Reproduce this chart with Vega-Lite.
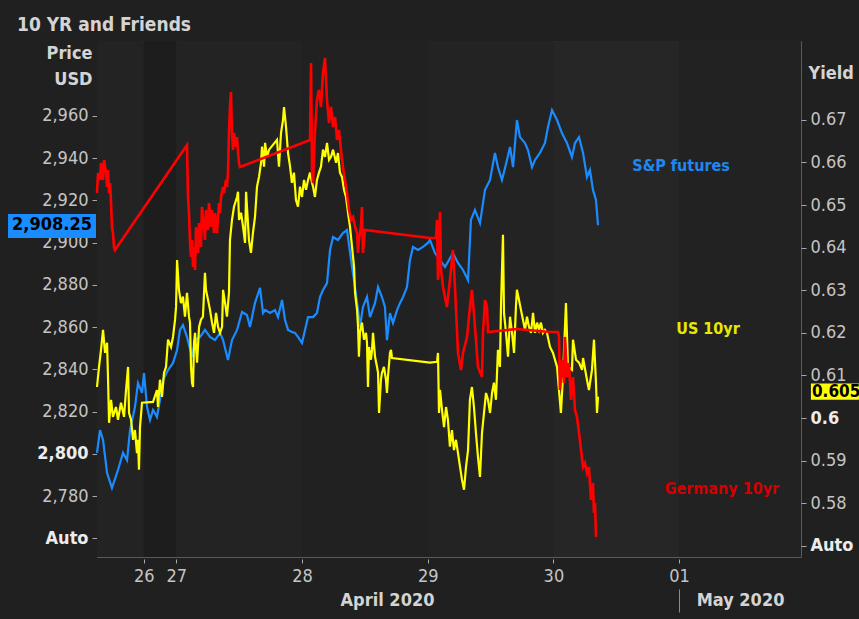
{
  "$schema": "https://vega.github.io/schema/vega-lite/v6.json",
  "width": 704,
  "height": 516,
  "autosize": {"type": "none"},
  "padding": {"left": 97, "top": 41, "right": 58, "bottom": 62},
  "background": "#202020",
  "title": {"text": "10 YR and Friends", "anchor": "start", "frame": "group", "dx": -80, "dy": 20, "offset": 11, "baseline": "alphabetic", "fontSize": 19, "font": "DejaVu Sans Condensed, DejaVu Sans, sans-serif", "fontWeight": "bold", "color": "#d4d4d4"},
  "config": {
    "view": {"fill": "#232323", "stroke": "#5a5a5a", "strokeWidth": 1},
    "axis": {"labelFont": "DejaVu Sans Condensed, DejaVu Sans, sans-serif", "labelFontSize": 18, "labelColor": "#c4c4c4", "titleFont": "DejaVu Sans Condensed, DejaVu Sans, sans-serif", "titleColor": "#d4d4d4", "grid": false, "domain": false, "tickColor": "#a8a8a8", "labelOverlap": false, "labelFlush": false}
  },
  "datasets": {
    "days": [
      {"start": 0.369, "end": 0.741, "shade": "fri"},
      {"start": 0.741, "end": 1, "shade": "sun"},
      {"start": 1, "end": 2, "shade": "mon"},
      {"start": 2, "end": 3, "shade": "tue"},
      {"start": 3, "end": 4, "shade": "wed"},
      {"start": 4, "end": 5, "shade": "thu"},
      {"start": 5, "end": 5.97, "shade": "fri2"}
    ],
    "spx": [
      {"t":0.369,"v":2800.5},{"t":0.393,"v":2811.3},{"t":0.417,"v":2806.6},{"t":0.449,"v":2791.0},{"t":0.488,"v":2783.9},{"t":0.536,"v":2792.4},{"t":0.576,"v":2800.5},{"t":0.608,"v":2797.1},{"t":0.632,"v":2811.3},{"t":0.671,"v":2822.2},{"t":0.695,"v":2833.6},{"t":0.727,"v":2828.9},{"t":0.743,"v":2838.3},{"t":0.767,"v":2822.2},{"t":0.791,"v":2816.1},{"t":0.815,"v":2820.8},{"t":0.846,"v":2817.5},{"t":0.870,"v":2825.5},{"t":0.894,"v":2835.0},{"t":0.934,"v":2839.7},{"t":0.974,"v":2843.1},{"t":1.006,"v":2849.2},{"t":1.029,"v":2858.7},{"t":1.053,"v":2861.0},{"t":1.085,"v":2855.4},{"t":1.125,"v":2845.9},{"t":1.149,"v":2853.9},{"t":1.189,"v":2855.4},{"t":1.228,"v":2858.7},{"t":1.268,"v":2855.4},{"t":1.308,"v":2853.9},{"t":1.348,"v":2857.3},{"t":1.372,"v":2853.9},{"t":1.411,"v":2844.5},{"t":1.443,"v":2853.9},{"t":1.483,"v":2858.7},{"t":1.523,"v":2867.2},{"t":1.562,"v":2865.8},{"t":1.586,"v":2860.1},{"t":1.626,"v":2871.5},{"t":1.666,"v":2878.6},{"t":1.690,"v":2866.7},{"t":1.706,"v":2868.1},{"t":1.745,"v":2866.7},{"t":1.785,"v":2868.1},{"t":1.809,"v":2864.8},{"t":1.841,"v":2872.9},{"t":1.865,"v":2863.4},{"t":1.889,"v":2858.7},{"t":1.920,"v":2857.7},{"t":1.944,"v":2857.3},{"t":1.968,"v":2855.4},{"t":2.000,"v":2852.5},{"t":2.024,"v":2858.7},{"t":2.048,"v":2864.8},{"t":2.088,"v":2864.8},{"t":2.119,"v":2866.7},{"t":2.143,"v":2874.3},{"t":2.167,"v":2877.6},{"t":2.199,"v":2880.9},{"t":2.223,"v":2896.6},{"t":2.247,"v":2902.7},{"t":2.286,"v":2901.3},{"t":2.326,"v":2904.6},{"t":2.358,"v":2906.0},{"t":2.398,"v":2888.5},{"t":2.422,"v":2879.0},{"t":2.446,"v":2868.1},{"t":2.461,"v":2860.1},{"t":2.485,"v":2869.6},{"t":2.517,"v":2874.3},{"t":2.541,"v":2864.8},{"t":2.581,"v":2871.5},{"t":2.605,"v":2879.0},{"t":2.636,"v":2874.3},{"t":2.660,"v":2869.6},{"t":2.676,"v":2853.9},{"t":2.700,"v":2866.7},{"t":2.724,"v":2862.0},{"t":2.756,"v":2868.1},{"t":2.780,"v":2871.5},{"t":2.804,"v":2874.3},{"t":2.835,"v":2879.0},{"t":2.859,"v":2891.8},{"t":2.883,"v":2898.0},{"t":2.923,"v":2896.6},{"t":2.963,"v":2898.0},{"t":3.002,"v":2899.9},{"t":3.018,"v":2901.3},{"t":3.058,"v":2895.1},{"t":3.138,"v":2888.5},{"t":3.201,"v":2895.1},{"t":3.241,"v":2890.4},{"t":3.281,"v":2887.1},{"t":3.321,"v":2882.3},{"t":3.344,"v":2910.8},{"t":3.376,"v":2915.5},{"t":3.416,"v":2909.3},{"t":3.456,"v":2925.0},{"t":3.496,"v":2929.7},{"t":3.535,"v":2942.5},{"t":3.559,"v":2935.8},{"t":3.591,"v":2929.7},{"t":3.631,"v":2939.2},{"t":3.655,"v":2945.3},{"t":3.679,"v":2935.8},{"t":3.710,"v":2958.1},{"t":3.734,"v":2950.0},{"t":3.774,"v":2947.2},{"t":3.798,"v":2943.9},{"t":3.830,"v":2935.8},{"t":3.854,"v":2939.2},{"t":3.893,"v":2942.5},{"t":3.933,"v":2947.2},{"t":3.957,"v":2954.8},{"t":3.989,"v":2962.8},{"t":4.029,"v":2958.1},{"t":4.068,"v":2951.9},{"t":4.108,"v":2947.2},{"t":4.148,"v":2940.6},{"t":4.172,"v":2947.2},{"t":4.204,"v":2950.0},{"t":4.236,"v":2942.5},{"t":4.267,"v":2931.1},{"t":4.291,"v":2934.4},{"t":4.315,"v":2925.0},{"t":4.339,"v":2920.2},{"t":4.355,"v":2908.25}
    ],
    "us10": [
      {"t":0.369,"v":0.6073},{"t":0.385,"v":0.6120},{"t":0.401,"v":0.6160},{"t":0.417,"v":0.6207},{"t":0.433,"v":0.6153},{"t":0.449,"v":0.6177},{"t":0.457,"v":0.6090},{"t":0.465,"v":0.5989},{"t":0.481,"v":0.6043},{"t":0.496,"v":0.6003},{"t":0.520,"v":0.6026},{"t":0.536,"v":0.5996},{"t":0.560,"v":0.6036},{"t":0.584,"v":0.6003},{"t":0.600,"v":0.6066},{"t":0.616,"v":0.6120},{"t":0.624,"v":0.6012},{"t":0.640,"v":0.5996},{"t":0.656,"v":0.5949},{"t":0.671,"v":0.5972},{"t":0.687,"v":0.5918},{"t":0.695,"v":0.5949},{"t":0.703,"v":0.5879},{"t":0.711,"v":0.5979},{"t":0.727,"v":0.6036},{"t":0.815,"v":0.6038},{"t":0.846,"v":0.6066},{"t":0.854,"v":0.6026},{"t":0.870,"v":0.6090},{"t":0.886,"v":0.6050},{"t":0.902,"v":0.6106},{"t":0.918,"v":0.6120},{"t":0.934,"v":0.6184},{"t":0.958,"v":0.6167},{"t":0.974,"v":0.6191},{"t":0.990,"v":0.6231},{"t":0.998,"v":0.6261},{"t":1.006,"v":0.6371},{"t":1.021,"v":0.6301},{"t":1.037,"v":0.6270},{"t":1.053,"v":0.6285},{"t":1.069,"v":0.6238},{"t":1.085,"v":0.6294},{"t":1.101,"v":0.6238},{"t":1.109,"v":0.6224},{"t":1.117,"v":0.6120},{"t":1.125,"v":0.6083},{"t":1.133,"v":0.6073},{"t":1.141,"v":0.6177},{"t":1.149,"v":0.6200},{"t":1.165,"v":0.6130},{"t":1.181,"v":0.6214},{"t":1.196,"v":0.6231},{"t":1.212,"v":0.6238},{"t":1.228,"v":0.6341},{"t":1.236,"v":0.6301},{"t":1.252,"v":0.6278},{"t":1.268,"v":0.6254},{"t":1.284,"v":0.6224},{"t":1.300,"v":0.6200},{"t":1.316,"v":0.6247},{"t":1.332,"v":0.6214},{"t":1.348,"v":0.6200},{"t":1.364,"v":0.6214},{"t":1.372,"v":0.6301},{"t":1.388,"v":0.6270},{"t":1.403,"v":0.6238},{"t":1.419,"v":0.6294},{"t":1.427,"v":0.6418},{"t":1.443,"v":0.6465},{"t":1.459,"v":0.6496},{"t":1.483,"v":0.6519},{"t":1.491,"v":0.6531},{"t":1.499,"v":0.6465},{"t":1.515,"v":0.6482},{"t":1.531,"v":0.6449},{"t":1.547,"v":0.6411},{"t":1.555,"v":0.6531},{"t":1.578,"v":0.6418},{"t":1.594,"v":0.6388},{"t":1.610,"v":0.6435},{"t":1.626,"v":0.6472},{"t":1.642,"v":0.6543},{"t":1.658,"v":0.6566},{"t":1.674,"v":0.6599},{"t":1.682,"v":0.6637},{"t":1.698,"v":0.6590},{"t":1.706,"v":0.6646},{"t":1.722,"v":0.6613},{"t":1.738,"v":0.6630},{"t":1.801,"v":0.6653},{"t":1.817,"v":0.6590},{"t":1.833,"v":0.6669},{"t":1.849,"v":0.6700},{"t":1.857,"v":0.6730},{"t":1.873,"v":0.6683},{"t":1.889,"v":0.6622},{"t":1.905,"v":0.6590},{"t":1.920,"v":0.6552},{"t":1.936,"v":0.6576},{"t":1.952,"v":0.6512},{"t":1.968,"v":0.6496},{"t":1.984,"v":0.6543},{"t":2.000,"v":0.6519},{"t":2.016,"v":0.6559},{"t":2.032,"v":0.6536},{"t":2.048,"v":0.6559},{"t":2.064,"v":0.6576},{"t":2.080,"v":0.6552},{"t":2.088,"v":0.6543},{"t":2.103,"v":0.6519},{"t":2.119,"v":0.6559},{"t":2.135,"v":0.6576},{"t":2.151,"v":0.6590},{"t":2.167,"v":0.6630},{"t":2.183,"v":0.6613},{"t":2.199,"v":0.6646},{"t":2.215,"v":0.6606},{"t":2.231,"v":0.6613},{"t":2.247,"v":0.6630},{"t":2.271,"v":0.6599},{"t":2.286,"v":0.6622},{"t":2.302,"v":0.6576},{"t":2.318,"v":0.6566},{"t":2.334,"v":0.6536},{"t":2.350,"v":0.6519},{"t":2.366,"v":0.6482},{"t":2.382,"v":0.6449},{"t":2.398,"v":0.6402},{"t":2.414,"v":0.6355},{"t":2.422,"v":0.6294},{"t":2.438,"v":0.6254},{"t":2.446,"v":0.6214},{"t":2.453,"v":0.6144},{"t":2.461,"v":0.6200},{"t":2.477,"v":0.6224},{"t":2.493,"v":0.6184},{"t":2.509,"v":0.6200},{"t":2.517,"v":0.6177},{"t":2.525,"v":0.6073},{"t":2.533,"v":0.6167},{"t":2.549,"v":0.6137},{"t":2.557,"v":0.6160},{"t":2.565,"v":0.6200},{"t":2.581,"v":0.6144},{"t":2.597,"v":0.6120},{"t":2.605,"v":0.6106},{"t":2.613,"v":0.6012},{"t":2.628,"v":0.6090},{"t":2.636,"v":0.6106},{"t":2.652,"v":0.6120},{"t":2.668,"v":0.6090},{"t":2.676,"v":0.6059},{"t":2.684,"v":0.6097},{"t":2.700,"v":0.6153},{"t":2.708,"v":0.6160},{"t":2.716,"v":0.6141},{"t":3.018,"v":0.6130},{"t":3.074,"v":0.6132},{"t":3.082,"v":0.6153},{"t":3.090,"v":0.6012},{"t":3.098,"v":0.6066},{"t":3.114,"v":0.6019},{"t":3.130,"v":0.5979},{"t":3.146,"v":0.6026},{"t":3.161,"v":0.5996},{"t":3.177,"v":0.5933},{"t":3.193,"v":0.5972},{"t":3.209,"v":0.5925},{"t":3.225,"v":0.5949},{"t":3.241,"v":0.5918},{"t":3.257,"v":0.5886},{"t":3.273,"v":0.5855},{"t":3.289,"v":0.5832},{"t":3.305,"v":0.5886},{"t":3.321,"v":0.5925},{"t":3.336,"v":0.6043},{"t":3.352,"v":0.6073},{"t":3.368,"v":0.6026},{"t":3.384,"v":0.5965},{"t":3.400,"v":0.5909},{"t":3.416,"v":0.5862},{"t":3.432,"v":0.5965},{"t":3.448,"v":0.6012},{"t":3.464,"v":0.6059},{"t":3.480,"v":0.6043},{"t":3.496,"v":0.6012},{"t":3.512,"v":0.6059},{"t":3.527,"v":0.6083},{"t":3.543,"v":0.6043},{"t":3.559,"v":0.6160},{"t":3.575,"v":0.6120},{"t":3.583,"v":0.6261},{"t":3.599,"v":0.6430},{"t":3.607,"v":0.6247},{"t":3.623,"v":0.6200},{"t":3.639,"v":0.6144},{"t":3.655,"v":0.6238},{"t":3.671,"v":0.6200},{"t":3.687,"v":0.6153},{"t":3.702,"v":0.6261},{"t":3.710,"v":0.6301},{"t":3.726,"v":0.6278},{"t":3.742,"v":0.6254},{"t":3.758,"v":0.6231},{"t":3.774,"v":0.6207},{"t":3.790,"v":0.6238},{"t":3.806,"v":0.6214},{"t":3.822,"v":0.6200},{"t":3.838,"v":0.6247},{"t":3.854,"v":0.6200},{"t":3.870,"v":0.6224},{"t":3.886,"v":0.6207},{"t":3.901,"v":0.6224},{"t":3.917,"v":0.6200},{"t":3.933,"v":0.6207},{"t":3.949,"v":0.6200},{"t":3.973,"v":0.6167},{"t":3.997,"v":0.6153},{"t":4.029,"v":0.6120},{"t":4.060,"v":0.6012},{"t":4.076,"v":0.6097},{"t":4.100,"v":0.6270},{"t":4.116,"v":0.6120},{"t":4.148,"v":0.6113},{"t":4.156,"v":0.6184},{"t":4.180,"v":0.6137},{"t":4.204,"v":0.6130},{"t":4.228,"v":0.6113},{"t":4.236,"v":0.6141},{"t":4.267,"v":0.6090},{"t":4.283,"v":0.6066},{"t":4.307,"v":0.6113},{"t":4.323,"v":0.6184},{"t":4.339,"v":0.6083},{"t":4.347,"v":0.6012},{"t":4.355,"v":0.6050}
    ],
    "de10": [
      {"t":0.369,"v":-0.4540},{"t":0.377,"v":-0.4460},{"t":0.393,"v":-0.4488},{"t":0.401,"v":-0.4420},{"t":0.417,"v":-0.4488},{"t":0.425,"v":-0.4408},{"t":0.441,"v":-0.4460},{"t":0.449,"v":-0.4516},{"t":0.457,"v":-0.4448},{"t":0.465,"v":-0.4540},{"t":0.473,"v":-0.4500},{"t":0.481,"v":-0.4580},{"t":0.488,"v":-0.4676},{"t":0.496,"v":-0.4700},{"t":0.504,"v":-0.4756},{"t":0.512,"v":-0.4768},{"t":1.085,"v":-0.4348},{"t":1.093,"v":-0.4556},{"t":1.101,"v":-0.4620},{"t":1.109,"v":-0.4740},{"t":1.117,"v":-0.4796},{"t":1.125,"v":-0.4728},{"t":1.133,"v":-0.4836},{"t":1.141,"v":-0.4756},{"t":1.149,"v":-0.4848},{"t":1.157,"v":-0.4676},{"t":1.173,"v":-0.4780},{"t":1.181,"v":-0.4660},{"t":1.196,"v":-0.4756},{"t":1.204,"v":-0.4596},{"t":1.220,"v":-0.4676},{"t":1.228,"v":-0.4728},{"t":1.236,"v":-0.4608},{"t":1.252,"v":-0.4688},{"t":1.260,"v":-0.4580},{"t":1.276,"v":-0.4676},{"t":1.284,"v":-0.4608},{"t":1.300,"v":-0.4700},{"t":1.308,"v":-0.4620},{"t":1.324,"v":-0.4700},{"t":1.332,"v":-0.4636},{"t":1.340,"v":-0.4580},{"t":1.348,"v":-0.4620},{"t":1.356,"v":-0.4556},{"t":1.372,"v":-0.4516},{"t":1.380,"v":-0.4540},{"t":1.395,"v":-0.4488},{"t":1.403,"v":-0.4516},{"t":1.411,"v":-0.4460},{"t":1.419,"v":-0.4300},{"t":1.427,"v":-0.4196},{"t":1.435,"v":-0.4136},{"t":1.443,"v":-0.4300},{"t":1.451,"v":-0.4368},{"t":1.459,"v":-0.4300},{"t":1.475,"v":-0.4356},{"t":1.483,"v":-0.4316},{"t":1.491,"v":-0.4380},{"t":1.499,"v":-0.4420},{"t":1.507,"v":-0.4436},{"t":2.064,"v":-0.4328},{"t":2.072,"v":-0.4020},{"t":2.080,"v":-0.4460},{"t":2.088,"v":-0.4500},{"t":2.103,"v":-0.4300},{"t":2.119,"v":-0.4168},{"t":2.135,"v":-0.4128},{"t":2.151,"v":-0.4196},{"t":2.167,"v":-0.4060},{"t":2.183,"v":-0.4000},{"t":2.199,"v":-0.4168},{"t":2.215,"v":-0.4260},{"t":2.231,"v":-0.4196},{"t":2.247,"v":-0.4276},{"t":2.263,"v":-0.4236},{"t":2.279,"v":-0.4328},{"t":2.294,"v":-0.4288},{"t":2.310,"v":-0.4368},{"t":2.326,"v":-0.4436},{"t":2.342,"v":-0.4488},{"t":2.358,"v":-0.4540},{"t":2.374,"v":-0.4608},{"t":2.390,"v":-0.4648},{"t":2.406,"v":-0.4636},{"t":2.422,"v":-0.4676},{"t":2.438,"v":-0.4700},{"t":2.446,"v":-0.4780},{"t":2.453,"v":-0.4728},{"t":2.469,"v":-0.4676},{"t":2.477,"v":-0.4596},{"t":2.485,"v":-0.4780},{"t":2.501,"v":-0.4688},{"t":3.018,"v":-0.4720},{"t":3.066,"v":-0.4720},{"t":3.074,"v":-0.4648},{"t":3.082,"v":-0.4888},{"t":3.098,"v":-0.4616},{"t":3.106,"v":-0.4848},{"t":3.122,"v":-0.4916},{"t":3.153,"v":-0.4996},{"t":3.177,"v":-0.4888},{"t":3.201,"v":-0.4768},{"t":3.217,"v":-0.4916},{"t":3.233,"v":-0.5088},{"t":3.241,"v":-0.5180},{"t":3.265,"v":-0.5248},{"t":3.281,"v":-0.5180},{"t":3.313,"v":-0.5116},{"t":3.336,"v":-0.4996},{"t":3.352,"v":-0.4928},{"t":3.368,"v":-0.5020},{"t":3.384,"v":-0.5128},{"t":3.400,"v":-0.5236},{"t":3.432,"v":-0.5276},{"t":3.440,"v":-0.5100},{"t":3.456,"v":-0.4968},{"t":3.472,"v":-0.4996},{"t":3.480,"v":-0.5096},{"t":3.710,"v":-0.5084},{"t":3.973,"v":-0.5096},{"t":4.037,"v":-0.5096},{"t":4.045,"v":-0.5116},{"t":4.052,"v":-0.5328},{"t":4.068,"v":-0.5208},{"t":4.084,"v":-0.5300},{"t":4.092,"v":-0.5116},{"t":4.108,"v":-0.5276},{"t":4.124,"v":-0.5220},{"t":4.140,"v":-0.5368},{"t":4.156,"v":-0.5276},{"t":4.172,"v":-0.5408},{"t":4.188,"v":-0.5436},{"t":4.204,"v":-0.5500},{"t":4.220,"v":-0.5568},{"t":4.236,"v":-0.5636},{"t":4.251,"v":-0.5620},{"t":4.267,"v":-0.5660},{"t":4.283,"v":-0.5636},{"t":4.299,"v":-0.5768},{"t":4.315,"v":-0.5700},{"t":4.323,"v":-0.5820},{"t":4.331,"v":-0.5780},{"t":4.339,"v":-0.5916}
    ]
  },
  "layer": [
    {
      "data": {"name": "days"},
      "mark": {"type": "rect"},
      "encoding": {
        "x": {"field": "start", "type": "quantitative", "scale": {"domain": [0.369, 5.97], "zero": false, "nice": false},
          "axis": {"orient": "bottom", "values": [2.676, 5.0, 5.485], "offset": 32, "tickSize": 23, "tickWidth": 1,
            "tickColor": {"condition": {"test": "datum.value == 5", "value": "#8a8a8a"}, "value": "transparent"},
            "labelPadding": -21, "labelFontWeight": "bold", "labelColor": "#d4d4d4", "labelFontSize": 18,
            "labelExpr": "datum.value < 3 ? 'April 2020' : (datum.value > 5.1 ? 'May 2020' : '')", "title": null}},
        "x2": {"field": "end"},
        "color": {"field": "shade", "type": "nominal", "legend": null,
          "scale": {"domain": ["fri", "sun", "mon", "tue", "wed", "thu", "fri2"], "range": ["#232323", "#1d1d1d", "#232323", "#212121", "#232323", "#262626", "#222222"]}}
      }
    },
    {
      "layer": [
        {
          "data": {"name": "spx"},
          "mark": {"type": "line", "color": "#1a8cff", "strokeWidth": 2.2, "interpolate": "linear"},
          "encoding": {
            "x": {"field": "t", "type": "quantitative", "scale": {"domain": [0.369, 5.97], "zero": false, "nice": false},
              "axis": {"orient": "bottom", "values": [0.741, 1, 2, 3, 4, 5], "offset": 2, "tickSize": 4, "labelPadding": 4,
                "labelExpr": "datum.value < 0.9 ? '26' : (datum.value == 1 ? '27' : (datum.value == 2 ? '28' : (datum.value == 3 ? '29' : (datum.value == 4 ? '30' : '01'))))", "title": null}},
            "y": {"field": "v", "type": "quantitative", "scale": {"domain": [2751.2, 2995.5], "zero": false, "nice": false},
              "axis": {"orient": "left", "values": [2760, 2780, 2800, 2820, 2840, 2860, 2880, 2900, 2920, 2940, 2960], "tickSize": 5, "labelPadding": 4,
                "labelExpr": "datum.value == 2760 ? 'Auto' : format(datum.value, ',')",
                "labelFontWeight": {"condition": {"test": "datum.value == 2800 || datum.value == 2760", "value": "bold"}, "value": "normal"},
                "labelColor": {"condition": {"test": "datum.value == 2800 || datum.value == 2760", "value": "#ececec"}, "value": "#c4c4c4"},
                "title": ["Price", "USD"], "titleAngle": 0, "titleAlign": "right", "titleBaseline": "top", "titleX": -5, "titleY": 3, "titleFontSize": 18, "titleFontWeight": "bold", "titleLineHeight": 26}}
          }
        },
        {
          "data": {"values": [{"series": "S&P futures", "last": 2908.25}]},
          "mark": {"type": "rect", "color": "#1a8cff"},
          "encoding": {
            "x": {"datum": -0.339, "type": "quantitative", "scale": {"domain": [0.369, 5.97], "zero": false, "nice": false}},
            "x2": {"datum": 0.361},
            "y": {"datum": 2902.2, "type": "quantitative", "scale": {"domain": [2751.2, 2995.5], "zero": false, "nice": false}},
            "y2": {"datum": 2913.6}
          }
        },
        {
          "data": {"values": [{"series": "S&P futures", "last": 2908.25}]},
          "mark": {"type": "text", "color": "#000000", "fontWeight": "bold", "fontSize": 18, "font": "DejaVu Sans Condensed, DejaVu Sans, sans-serif", "align": "center", "baseline": "middle"},
          "encoding": {
            "x": {"datum": 0.011, "type": "quantitative", "scale": {"domain": [0.369, 5.97], "zero": false, "nice": false}},
            "y": {"field": "last", "type": "quantitative", "scale": {"domain": [2751.2, 2995.5], "zero": false, "nice": false}},
            "text": {"field": "last", "type": "quantitative", "format": ",.2f"}
          }
        },
        {
          "data": {"values": [{"series": "S&P futures"}]},
          "mark": {"type": "text", "color": "#1e88f0", "fontWeight": "bold", "fontSize": 16, "font": "DejaVu Sans Condensed, DejaVu Sans, sans-serif", "align": "center", "baseline": "middle"},
          "encoding": {
            "x": {"datum": 5.016, "type": "quantitative", "scale": {"domain": [0.369, 5.97], "zero": false, "nice": false}},
            "y": {"datum": 2936.3, "type": "quantitative", "scale": {"domain": [2751.2, 2995.5], "zero": false, "nice": false}},
            "text": {"field": "series"}
          }
        }
      ]
    },
    {
      "layer": [
        {
          "data": {"name": "us10"},
          "mark": {"type": "line", "color": "#ffff00", "strokeWidth": 2.2},
          "encoding": {
            "x": {"field": "t", "type": "quantitative", "scale": {"domain": [0.369, 5.97], "zero": false, "nice": false}, "axis": null},
            "y": {"field": "v", "type": "quantitative", "scale": {"domain": [0.5674, 0.6885], "zero": false, "nice": false},
              "axis": {"orient": "right", "values": [0.57, 0.58, 0.59, 0.6, 0.61, 0.62, 0.63, 0.64, 0.65, 0.66, 0.67], "tickSize": 5, "labelPadding": 4,
                "labelExpr": "datum.value < 0.575 ? 'Auto' : format(datum.value, '.2~f')",
                "labelFontWeight": {"condition": {"test": "abs(datum.value - 0.6) < 0.001 || datum.value < 0.575", "value": "bold"}, "value": "normal"},
                "labelColor": {"condition": {"test": "abs(datum.value - 0.6) < 0.001 || datum.value < 0.575", "value": "#ececec"}, "value": "#c4c4c4"},
                "title": "Yield", "titleAngle": 0, "titleAlign": "left", "titleBaseline": "top", "titleX": 7, "titleY": 23, "titleFontSize": 18, "titleFontWeight": "bold"}}
          }
        },
        {
          "data": {"values": [{"series": "US 10yr", "last": 0.605}]},
          "mark": {"type": "rect", "color": "#ffff00"},
          "encoding": {
            "x": {"datum": 6.049, "type": "quantitative", "scale": {"domain": [0.369, 5.97], "zero": false, "nice": false}, "axis": null},
            "x2": {"datum": 6.431},
            "y": {"datum": 0.6043, "type": "quantitative", "scale": {"domain": [0.5674, 0.6885], "zero": false, "nice": false}},
            "y2": {"datum": 0.6081}
          }
        },
        {
          "data": {"values": [{"series": "US 10yr", "last": 0.605}]},
          "mark": {"type": "text", "color": "#000000", "fontWeight": "bold", "fontSize": 17, "font": "DejaVu Sans Condensed, DejaVu Sans, sans-serif", "align": "left", "baseline": "middle"},
          "encoding": {
            "x": {"datum": 6.057, "type": "quantitative", "scale": {"domain": [0.369, 5.97], "zero": false, "nice": false}, "axis": null},
            "y": {"datum": 0.6062, "type": "quantitative", "scale": {"domain": [0.5674, 0.6885], "zero": false, "nice": false}},
            "text": {"field": "last", "type": "quantitative", "format": ".3f"}
          }
        },
        {
          "data": {"values": [{"series": "US 10yr"}]},
          "mark": {"type": "text", "color": "#e8e800", "fontWeight": "bold", "fontSize": 16, "font": "DejaVu Sans Condensed, DejaVu Sans, sans-serif", "align": "center", "baseline": "middle"},
          "encoding": {
            "x": {"datum": 5.23, "type": "quantitative", "scale": {"domain": [0.369, 5.97], "zero": false, "nice": false}, "axis": null},
            "y": {"datum": 0.6209, "type": "quantitative", "scale": {"domain": [0.5674, 0.6885], "zero": false, "nice": false}},
            "text": {"field": "series"}
          }
        }
      ]
    },
    {
      "layer": [
        {
          "data": {"name": "de10"},
          "mark": {"type": "line", "color": "#ff0000", "strokeWidth": 2.6},
          "encoding": {
            "x": {"field": "t", "type": "quantitative", "scale": {"domain": [0.369, 5.97], "zero": false, "nice": false}, "axis": null},
            "y": {"field": "v", "type": "quantitative", "scale": {"domain": [-0.5996, -0.3932], "zero": false, "nice": false}, "axis": null}
          }
        },
        {
          "data": {"values": [{"series": "Germany 10yr"}]},
          "mark": {"type": "text", "color": "#d40000", "fontWeight": "bold", "fontSize": 16, "font": "DejaVu Sans Condensed, DejaVu Sans, sans-serif", "align": "center", "baseline": "middle"},
          "encoding": {
            "x": {"datum": 5.341, "type": "quantitative", "scale": {"domain": [0.369, 5.97], "zero": false, "nice": false}, "axis": null},
            "y": {"datum": -0.5724, "type": "quantitative", "scale": {"domain": [-0.5996, -0.3932], "zero": false, "nice": false}, "axis": null},
            "text": {"field": "series"}
          }
        }
      ]
    }
  ],
  "resolve": {"scale": {"x": "independent", "y": "independent", "color": "independent"}}
}
